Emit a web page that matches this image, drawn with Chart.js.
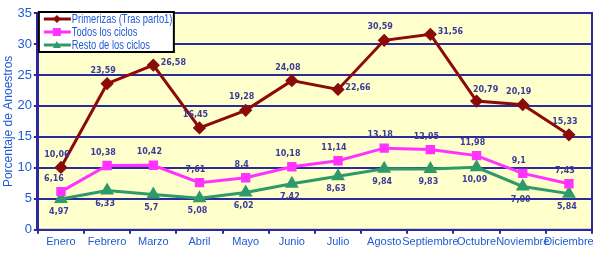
<!DOCTYPE html>
<html>
<head>
<meta charset="utf-8">
<script src="https://cdn.jsdelivr.net/npm/chart.js@4"></script>
<style>
  html, body { margin: 0; padding: 0; background: #ffffff; }
  #wrap { width: 600px; height: 256px; }
</style>
</head>
<body>
<div id="wrap"><canvas id="graph" width="600" height="256"></canvas></div>
<script>
const months = ["Enero", "Febrero", "Marzo", "Abril", "Mayo", "Junio", "Julio",
   "Agosto", "Septiembre", "Octubre", "Noviembre", "Diciembre"];
const primerizas = [10.06, 23.59, 26.58, 16.45, 19.28, 24.08, 22.66, 30.59, 31.56, 20.79, 20.19, 15.33];
const todos = [6.16, 10.38, 10.42, 7.61, 8.4, 10.18, 11.14, 13.18, 12.95, 11.98, 9.1, 7.43];
const resto = [4.97, 6.33, 5.7, 5.08, 6.02, 7.42, 8.63, 9.84, 9.83, 10.09, 7.0, 5.84];
const seriesNames = ["Primerizas (Tras parto1)", "Todos los ciclos", "Resto de los ciclos"];
const yTicks = [0, 5, 10, 15, 20, 25, 30, 35];

const navy = "#2b2b9e";
const blue = "#1f5ad6";
const sans = "'Liberation Sans'";

function fmt(v)
{
   const s = Number.isInteger(v) ? v.toFixed(2) : String(v);
   return s.replace(".", ",");
}

// label side for each series: above / right / below
const labelSide =
[
   ["up", "up", "right", "up", "up", "up", "right", "up", "right", "upright", "up", "up"],
   ["upleft", "up", "up", "up", "up", "up", "up", "up", "up", "up", "up", "up"],
   ["down", "down", "down", "down", "down", "down", "down", "down", "down", "down", "down", "down"]
];

const plotBg =
{
   id: "plotBg",
   beforeDraw(chart)
   {
      const { ctx, chartArea: a } = chart;
      ctx.save();
      ctx.fillStyle = "#ffffcc";
      ctx.fillRect(a.left, a.top, a.right - a.left, a.bottom - a.top);
      ctx.restore();
   },
   afterDatasetsDraw(chart)
   {
      const { ctx, chartArea: a } = chart;
      ctx.save();
      ctx.strokeStyle = navy;
      ctx.lineWidth = 2;
      ctx.strokeRect(a.left, a.top, a.right - a.left, a.bottom - a.top);
      ctx.restore();
   }
};

const pointLabels =
{
   id: "pointLabels",
   afterDatasetsDraw(chart)
   {
      const ctx = chart.ctx;
      ctx.save();
      ctx.font = "bold 8px 'DejaVu Sans'";
      ctx.fillStyle = "#3b3b9a";
      ctx.textAlign = "center";
      ctx.textBaseline = "middle";
      chart.data.datasets.forEach((ds, di) =>
      {
         chart.getDatasetMeta(di).data.forEach((pt, i) =>
         {
            const side = labelSide[di][i];
            let x = pt.x, y = pt.y;
            if (side === "up") { x -= 4; y -= 13; }
            else if (side === "upleft") { x -= 7; y -= 13; }
            else if (side === "upright") { x += 9; y -= 11; }
            else if (side === "right") { x += 20; y -= 2; }
            else { x -= 2; y += 13; }
            ctx.fillText(fmt(ds.data[i]), x, y);
         });
      });
      ctx.restore();
   }
};

const boxLegend =
{
   id: "boxLegend",
   afterDraw(chart)
   {
      const { ctx, chartArea: a } = chart;
      const x0 = a.left + 1, y0 = a.top - 1, w = 135, h = 40;
      ctx.save();
      ctx.fillStyle = "#ffffff";
      ctx.fillRect(x0, y0, w, h);
      ctx.strokeStyle = "#000000";
      ctx.lineWidth = 2;
      ctx.strokeRect(x0, y0, w, h);
      ctx.textBaseline = "middle";
      chart.data.datasets.forEach((ds, i) =>
      {
         const y = y0 + 7 + i * 13;
         ctx.strokeStyle = ds.borderColor;
         ctx.lineWidth = 3;
         ctx.beginPath();
         ctx.moveTo(x0 + 5, y);
         ctx.lineTo(x0 + 32, y);
         ctx.stroke();
         ctx.fillStyle = ds.borderColor;
         ctx.beginPath();
         if (ds.pointStyle === "rectRot")
         {
            ctx.moveTo(x0 + 18, y - 4); ctx.lineTo(x0 + 22, y);
            ctx.lineTo(x0 + 18, y + 4); ctx.lineTo(x0 + 14, y);
         }
         else if (ds.pointStyle === "rect")
         {
            ctx.rect(x0 + 14, y - 4, 8, 8);
         }
         else
         {
            ctx.moveTo(x0 + 18, y - 4); ctx.lineTo(x0 + 22, y + 3); ctx.lineTo(x0 + 14, y + 3);
         }
         ctx.closePath();
         ctx.fill();
         // squeeze the text a little to fit the box
         ctx.save();
         ctx.translate(x0 + 33, y + 1);
         ctx.scale(0.78, 1);
         ctx.font = "12px " + sans;
         ctx.fillStyle = blue;
         ctx.fillText(ds.label, 0, 0);
         ctx.restore();
      });
      ctx.restore();
   }
};

new Chart(document.getElementById("graph").getContext("2d"),
{
   type: "line",
   data:
   {
      labels: months,
      datasets:
      [
         {
            label: seriesNames[0],
            data: primerizas,
            borderColor: "#8b0a0a",
            backgroundColor: "#8b0a0a",
            borderWidth: 3,
            pointStyle: "rectRot",
            pointRadius: 4.5,
            tension: 0
         },
         {
            label: seriesNames[1],
            data: todos,
            borderColor: "#ff33ff",
            backgroundColor: "#ff33ff",
            borderWidth: 3,
            pointStyle: "rect",
            pointRadius: 4.5,
            tension: 0
         },
         {
            label: seriesNames[2],
            data: resto,
            borderColor: "#2e9a6a",
            backgroundColor: "#2e9a6a",
            borderWidth: 3,
            pointStyle: "triangle",
            pointRadius: 5,
            tension: 0
         }
      ]
   },
   options:
   {
      responsive: false,
      animation: false,
      layout: { padding: { top: 13, right: 7, left: 1, bottom: 5 } },
      scales:
      {
         x:
         {
            offset: true,
            grid:
            {
               offset: true,
               drawOnChartArea: false,
               drawTicks: true,
               tickLength: 4,
               color: navy,
               lineWidth: 2
            },
            border: { color: navy, width: 2 },
            ticks:
            {
               color: blue,
               font: { family: sans, size: 11 },
               maxRotation: 0,
               autoSkip: false,
               padding: 2
            }
         },
         y:
         {
            min: 0,
            max: 35,
            afterBuildTicks: axis => { axis.ticks = yTicks.map(v => ({ value: v })); },
            grid:
            {
               color: navy,
               lineWidth: 2,
               drawTicks: true,
               tickLength: 4
            },
            border: { color: navy, width: 3 },
            title:
            {
               display: true,
               text: "Porcentaje de Anoestros",
               color: blue,
               font: { family: sans, size: 12 },
               padding: 0
            },
            ticks:
            {
               color: blue,
               font: { family: sans, size: 13 },
               padding: 2
            }
         }
      },
      plugins:
      {
         legend: { display: false },
         tooltip: { enabled: false }
      }
   },
   plugins: [plotBg, pointLabels, boxLegend]
});
</script>
</body>
</html>
